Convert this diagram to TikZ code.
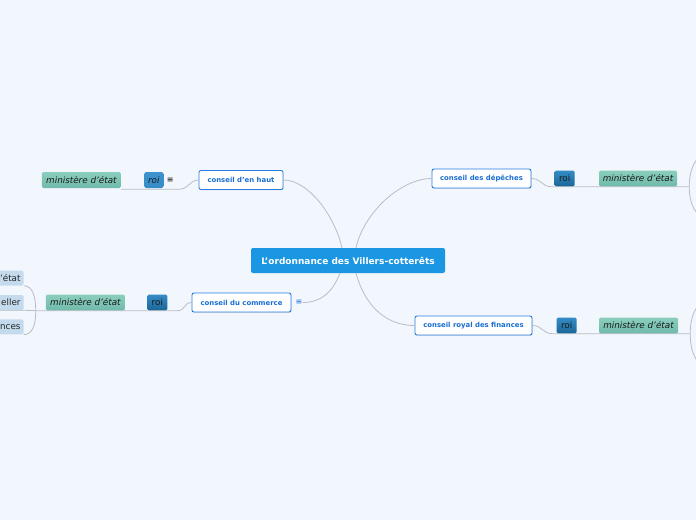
\documentclass[tikz,border=0pt]{standalone}
\usepackage{fontspec}
\setmainfont{DejaVu Sans}
\usepackage{tikz}
\usetikzlibrary{positioning,calc,shadows}
\definecolor{pageBg}{RGB}{242,246,253}
\definecolor{rootBlue}{RGB}{27,150,226}
\definecolor{conseilBorder}{RGB}{40,125,225}
\definecolor{conseilText}{RGB}{25,110,210}
\definecolor{roiTop}{RGB}{52,140,198}
\definecolor{roiBottom}{RGB}{26,102,152}
\definecolor{roiLight}{RGB}{62,146,206}
\definecolor{ministereTop}{RGB}{138,206,190}
\definecolor{ministereBottom}{RGB}{112,186,170}
\definecolor{leafBlue}{RGB}{196,219,237}
\definecolor{branchGray}{RGB}{186,188,196}
\tikzset{
  basebox/.style={rectangle,inner sep=0pt,align=center},
  rootbox/.style={basebox,rounded corners=2pt,fill=rootBlue,text=white,
    font=\fontsize{9}{11}\selectfont\bfseries,minimum width=194pt,minimum height=25pt},
  conseilbox/.style={basebox,rounded corners=2pt,draw=conseilBorder,line width=0.9pt,fill=white,
    text=conseilText,font=\fontsize{6.9}{8}\selectfont\bfseries,minimum height=19pt,
    drop shadow={shadow xshift=0.6pt,shadow yshift=-0.9pt,opacity=0.2}},
  roibox/.style={basebox,rounded corners=1.5pt,top color=roiTop,bottom color=roiBottom,
    text=black!90,font=\fontsize{8.8}{10}\selectfont,minimum width=20pt,minimum height=16pt},
  roilightbox/.style={roibox,top color=roiLight,bottom color=roiTop,font=\fontsize{8.8}{10}\selectfont\itshape},
  ministerebox/.style={basebox,rounded corners=1.5pt,top color=ministereTop,bottom color=ministereBottom,
    text=black!90,font=\fontsize{8.8}{10}\selectfont\itshape,minimum width=79pt,minimum height=16pt},
  leafbox/.style={basebox,rounded corners=1.5pt,fill=leafBlue,text=black!85,
    font=\fontsize{8.8}{10}\selectfont,minimum height=15pt,text width=60pt,align=right,inner xsep=3pt},
  foldmark/.style={inner sep=0pt,font=\fontsize{8}{9}\selectfont},
  branch/.style={draw=branchGray,line width=0.8pt}
}

\begin{document}
\begin{tikzpicture}[x=1pt,y=-1pt]
  \useasboundingbox (0,0) rectangle (696,520);
  \fill[pageBg] (0,0) rectangle (696,520);
  \clip (0,0) rectangle (696,520);

  %% Central topic
  \node[rootbox] (root) at (348,260.5) {L'ordonnance des Villers-cotterêts};

  %% Four conseils
  \node[conseilbox,minimum width=84pt] (haut) at (241,180) {conseil d'en haut};
  \node[conseilbox,minimum width=99pt] (depeches) at (481.5,178.5) {conseil des dépêches};
  \node[conseilbox,minimum width=99pt] (commerce) at (241.5,302.5) {conseil du commerce};
  \node[conseilbox,minimum width=117pt] (finances) at (473.5,325.5) {conseil royal des finances};

  %% roi and ministère d'état
  \node[roilightbox,minimum width=19pt,left=35pt of haut] (roiA) {roi};
  \node[foldmark,right=3pt of roiA] (foldA) {≡};
  \node[ministerebox,left=23pt of roiA] (minA) {ministère d'état};

  \node[roibox,right=23pt of depeches] (roiB) {roi};
  \node[ministerebox,minimum width=78pt,right=24pt of roiB] (minB) {ministère d'état};

  \node[foldmark,text=conseilText,right=4pt of commerce] (foldC) {≡};
  \node[roibox,left=24pt of commerce] (roiC) {roi};
  \node[ministerebox,left=22pt of roiC] (minC) {ministère d'état};

  \node[roibox,right=24pt of finances] (roiD) {roi};
  \node[ministerebox,right=22pt of roiD] (minD) {ministère d'état};

  %% Children of the left ministère (cut by the page edge)
  \node[leafbox,left=22pt of minC] (leafB) {eller};
  \node[leafbox,above=9pt of leafB] (leafA) {d'état};
  \node[leafbox,below=9pt of leafB] (leafC) {nces};

  %% Children of the right ministères (outside the page)
  \coordinate (offB1) at (704,156);
  \coordinate (offB2) at (704,216);
  \coordinate (offD1) at (704,304);
  \coordinate (offD2) at (704,364);

  %% Branches from the central topic
  \draw[branch] ($(root.north)+(-6,0)$) .. controls +(-8,-34) and +(24,0) .. (haut.east);
  \draw[branch] ($(root.north)+(8,0)$) .. controls +(8,-36) and +(-30,0) .. (depeches.west);
  \draw[branch] ($(root.south)+(-8,0)$) .. controls +(-8,20) and +(18,0) .. (foldC.east);
  \draw[branch] ($(root.south)+(8,0)$) .. controls +(10,36) and +(-26,0) .. (finances.west);

  %% conseil -> roi -> ministère
  \draw[branch] (haut.west) .. controls +(-9,0) and +(9,0) .. ($(roiA.south east)+(16,1)$)
    -- ($(minA.south east)+(0,1)$);
  \draw[branch] (depeches.east) .. controls +(10,0) and +(-10,0) .. ($(roiB.south west)+(-3,0)$)
    -- (minB.south east) -- ++(12,0) coordinate (forkB);
  \draw[branch] (commerce.west) .. controls +(-8,0) and +(8,0) .. ($(roiC.south east)+(10,0)$)
    -- (minC.south west) -- ++(-10,0) coordinate (forkC);
  \draw[branch] (finances.east) .. controls +(10,0) and +(-10,0) .. ($(roiD.south west)+(-4,0)$)
    -- (minD.south east) -- ++(12,0) coordinate (forkD);

  %% ministère -> children
  \draw[branch] (forkC) .. controls +(0,-16) and +(8,0) .. (leafA.south east);
  \draw[branch] (forkC) -- (leafB.south east) -- (leafB.south west);
  \draw[branch] (forkC) .. controls +(0,16) and +(8,0) .. (leafC.south east);
  \draw[branch] (forkB) .. controls +(0,-18) and +(-8,0) .. (offB1);
  \draw[branch] (forkB) .. controls +(0,18) and +(-8,0) .. (offB2);
  \draw[branch] (forkD) .. controls +(0,-18) and +(-8,0) .. (offD1);
  \draw[branch] (forkD) .. controls +(0,18) and +(-8,0) .. (offD2);
\end{tikzpicture}
\end{document}
